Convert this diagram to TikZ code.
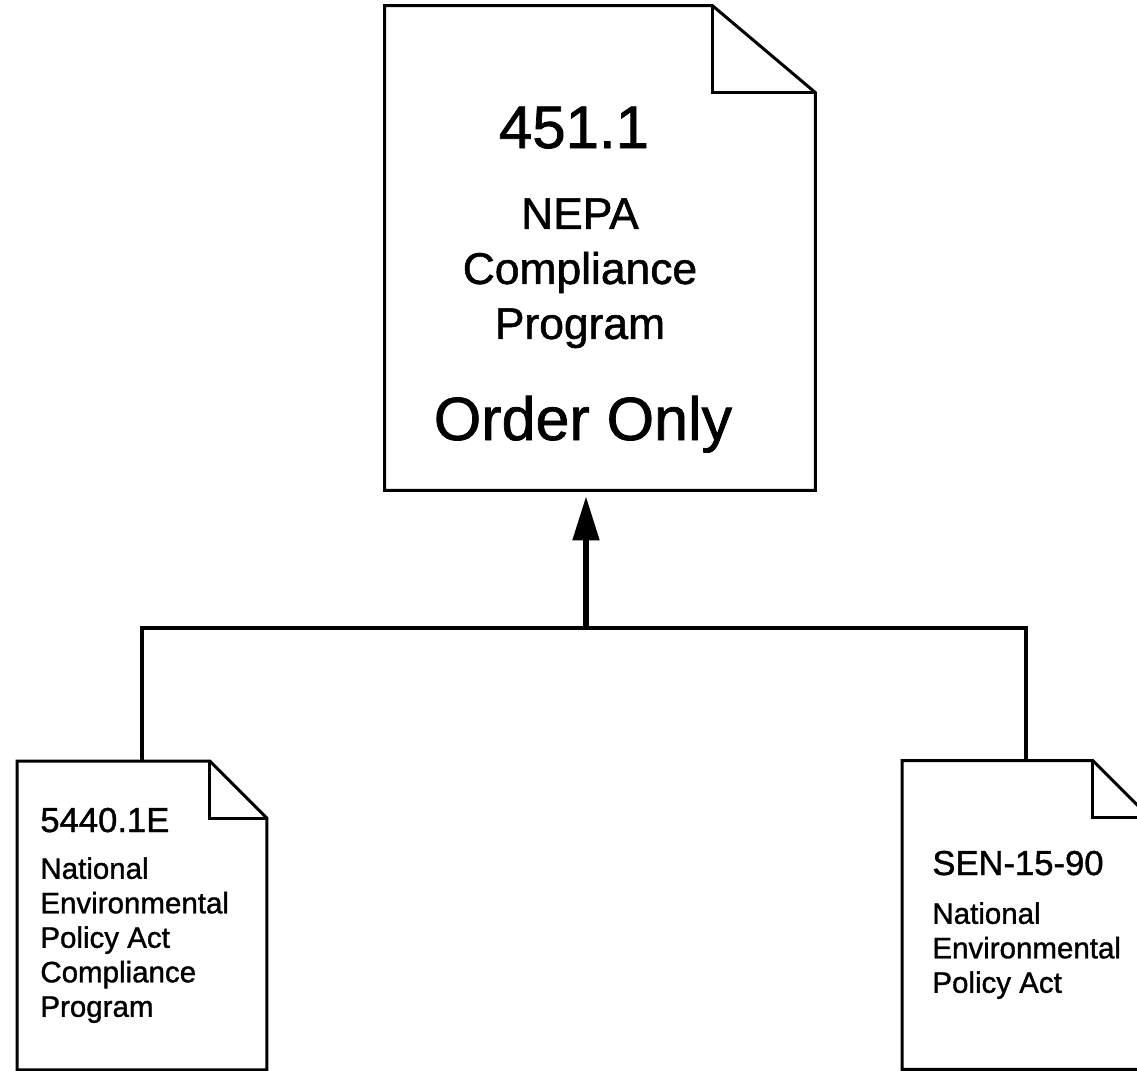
\documentclass[tikz,border=0pt]{standalone}
\usepackage{fontspec}
\setmainfont{Liberation Sans}[UprightFeatures={FakeBold=1.2}]
\usetikzlibrary{positioning,calc,arrows.meta}

% page outline with a folded top right corner: node, fold width, fold height
\newcommand{\dogear}[3]{%
  \draw[pageline] (#1.south west) -- (#1.north west) -- ([xshift=-#2]#1.north east)
    -- ([yshift=-#3]#1.north east) -- (#1.south east) -- cycle;
  \draw[pageline] ([xshift=-#2]#1.north east) |- ([yshift=-#3]#1.north east);
}

\begin{document}
\begin{tikzpicture}[
  x=0.5pt, y=-0.5pt,
  page/.style={rectangle,draw=none,inner sep=0pt},
  pageline/.style={line width=1.5pt,line join=miter},
  bus/.style={line width=2.4pt},
  rise/.style={line width=2.6pt,-{Triangle[length=22pt,width=13pt]},shorten >=3pt},
  ordnum/.style={font=\fontsize{30}{36}\selectfont,inner sep=0pt,anchor=base},
  ordtitle/.style={font=\fontsize{22.2}{27.5}\selectfont,inner sep=0pt,align=center,anchor=north},
  ordnote/.style={font=\fontsize{30.5}{36}\selectfont,inner sep=0pt,anchor=base},
  docnum/.style={font=\fontsize{17.3}{20}\selectfont,inner sep=0pt,anchor=base west},
  doctext/.style={font=\fontsize{14.75}{17.25}\selectfont,inner sep=0pt,align=left,anchor=north west}
]
\useasboundingbox (0,0) rectangle (1137,1071);
\clip (0,0) rectangle (1137,1071);

\node[page,minimum width=215pt,minimum height=242pt] (order) at (600,248) {};
\node[page,minimum width=124.5pt,minimum height=154pt] (nepaprog) at (142,915.5) {};
\node[page,minimum width=123.5pt,minimum height=154pt] (nepaact) at (1026,915) {};

\dogear{order}{51.5pt}{43.5pt}
\dogear{nepaprog}{28.5pt}{28.5pt}
\dogear{nepaact}{28.5pt}{28.5pt}

\node[ordnum] (ordno) at (574,148) {451.1};
\node[ordtitle] (ordname) at (580,198) {NEPA\\Compliance\\Program};
\node[ordnote] (ordonly) at (583,440) {Order Only};

\node[docnum] (progno) at (40,832) {5440.1E};
\node[doctext] (progname) at (40,857) {National\\Environmental\\Policy Act\\Compliance\\Program};

\node[docnum] (actno) at (932,875) {SEN-15-90};
\node[doctext] (actname) at (932,902) {National\\Environmental\\Policy Act};

\coordinate (hub) at (586,628);
\draw[bus] (nepaprog.north) |- (hub) -| (nepaact.north);
\draw[rise] (hub) -- (hub |- order.south);
\end{tikzpicture}
\end{document}
